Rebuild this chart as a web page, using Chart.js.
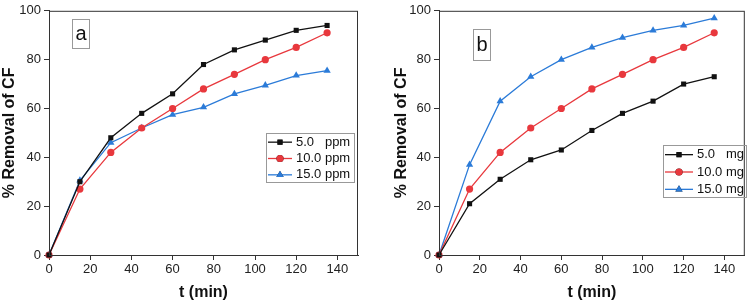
<!DOCTYPE html>
<html>
<head>
<meta charset="utf-8">
<script src="https://cdn.jsdelivr.net/npm/chart.js@4.4.1/dist/chart.umd.min.js"></script>
<style>
  html,body{margin:0;padding:0;background:#fff;}
  .box{position:absolute;top:0;height:302px;}
  #boxA{left:0;width:375px;}
  #boxB{left:375px;width:374px;}
</style>
</head>
<body>
<div class="box" id="boxA"><canvas id="chartA"></canvas></div>
<div class="box" id="boxB"><canvas id="chartB"></canvas></div>
<script>
// --- data ---
const times = [0, 15, 30, 45, 60, 75, 90, 105, 120, 135];
const xTicks = [0, 20, 40, 60, 80, 100, 120, 140];
const yTicks = [0, 20, 40, 60, 80, 100];

const conc5 = [0, 30, 48, 58, 66, 78, 84, 88, 92, 94];
const conc10 = [0, 27, 42, 52, 60, 68, 74, 80, 85, 91];
const conc15 = [0, 30.5, 46, 52, 57.5, 60.5, 66, 69.5, 73.5, 75.5];
const concLabels = ["5.0   ppm", "10.0 ppm", "15.0 ppm"];

const dose5 = [0, 21, 31, 39, 43, 51, 58, 63, 70, 73];
const dose10 = [0, 27, 42, 52, 60, 68, 74, 80, 85, 91];
const dose15 = [0, 37, 63, 73, 80, 85, 89, 92, 94, 97];
const doseLabels = ["5.0   mg", "10.0 mg", "15.0 mg"];

const colors = ["#111111", "#e8383d", "#2b7bd8"];
const shapes = ["rect", "circle", "triangle"];
const FONT = "'Liberation Sans', Arial, sans-serif";

function series(vals){ return vals.map((v,i)=>({x:times[i], y:v})); }

function makeSets(vals, labels){
  return vals.map((v,i)=>({
    label: labels[i], data: series(v),
    borderColor: colors[i], backgroundColor: colors[i],
    pointStyle: shapes[i], pointRadius: shapes[i]==="triangle" ? 4.2 : 3.6,
    pointBorderWidth: 0, borderWidth: 1.3, clip: false
  }));
}

// frame, panel letter and legend box drawn inside the plot
const decor = {
  id: "decor",
  afterDraw(chart, args, opts){
    const ctx = chart.ctx, a = chart.chartArea;
    ctx.save();
    ctx.strokeStyle = "#333"; ctx.lineWidth = 1;
    ctx.strokeRect(a.left+0.5, a.top+0.5, a.right-a.left-1, a.bottom-a.top);

    // panel letter
    const L = opts.letter;
    ctx.strokeStyle = "#999";
    ctx.strokeRect(L.x+0.5, L.y+0.5, L.w, L.h);
    ctx.fillStyle = "#111"; ctx.font = "20px " + FONT;
    ctx.textAlign = "center"; ctx.textBaseline = "middle";
    ctx.fillText(L.text, L.x + L.w/2 + 0.5, L.y + L.h/2 + 1);

    // legend
    const G = opts.legend;
    ctx.strokeStyle = "#999";
    ctx.strokeRect(G.x+0.5, G.y+0.5, G.w, G.h);
    ctx.font = "13px " + FONT; ctx.textAlign = "left";
    const rowH = G.h/3;
    chart.data.datasets.forEach((ds,i)=>{
      const cy = G.y + rowH*(i+0.5) + 1;
      ctx.strokeStyle = ds.borderColor; ctx.lineWidth = 1.3;
      ctx.beginPath(); ctx.moveTo(G.x+2, cy); ctx.lineTo(G.x+2+G.line, cy); ctx.stroke();
      Chart.helpers.drawPoint(ctx, {pointStyle: ds.pointStyle, radius: ds.pointRadius, borderWidth: 0}, G.x+2+G.line/2, cy);
      ctx.fillStyle = ds.backgroundColor; ctx.fill();
      ctx.fillStyle = "#111";
      ctx.fillText(ds.label, G.x + G.line + 6, cy);
    });
    ctx.restore();
  }
};

function makeChart(id, sets, yWidth, leftPad, rightPad, decorOpts){
  return new Chart(document.getElementById(id), {
    type: "line",
    data: { datasets: sets },
    plugins: [decor],
    options: {
      responsive: true, maintainAspectRatio: false, animation: false,
      layout: { padding: { top: 7, right: rightPad, left: leftPad, bottom: 0 } },
      plugins: { legend: { display: false }, tooltip: { enabled: false }, decor: decorOpts },
      scales: {
        x: {
          type: "linear", min: 0, max: 150,
          afterFit: s => { s.height = 47; },
          afterBuildTicks: s => { s.ticks = xTicks.map(v=>({value:v})); },
          ticks: { color: "#222", font: { family: FONT, size: 13 }, padding: 2, maxRotation: 0 },
          grid: { drawOnChartArea: false, tickLength: 5, color: "#333" },
          border: { color: "#333" },
          title: { display: true, text: "t (min)", color: "#111", font: { family: FONT, size: 16, weight: "bold" }, padding: { top: 4, bottom: 0 } }
        },
        y: {
          min: 0, max: 100,
          afterFit: s => { s.width = yWidth; },
          afterBuildTicks: s => { s.ticks = yTicks.map(v=>({value:v})); },
          ticks: { color: "#222", font: { family: FONT, size: 13 }, padding: 3 },
          grid: { drawOnChartArea: false, tickLength: 5, color: "#333" },
          border: { color: "#333" },
          title: { display: true, text: "% Removal of CF", color: "#111", font: { family: FONT, size: 16, weight: "bold" }, padding: 0 }
        }
      }
    }
  });
}

makeChart("chartA", makeSets([conc5, conc10, conc15], concLabels), 49, 0, 17, {
  letter: { text: "a", x: 72, y: 19, w: 17, h: 29 },
  legend: { x: 266, y: 133, w: 88, h: 49, line: 24 }
});
makeChart("chartB", makeSets([dose5, dose10, dose15], doseLabels), 47, 17, 1, {
  letter: { text: "b", x: 98, y: 29, w: 17, h: 31 },
  legend: { x: 288, y: 145, w: 83, h: 52, line: 28 }
});
</script>
</body>
</html>
